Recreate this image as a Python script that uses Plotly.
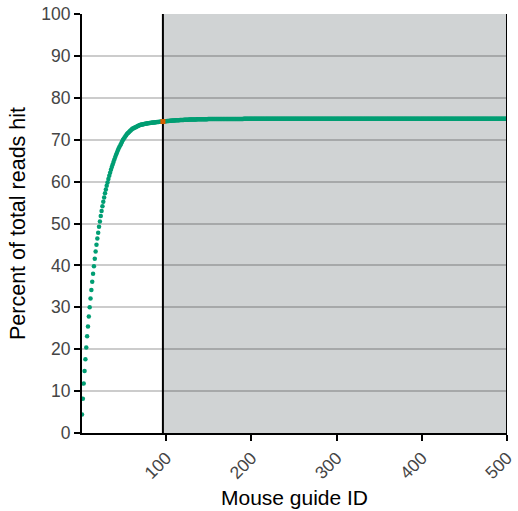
import plotly.graph_objects as go

# Guide IDs 1..500 (x categories)
guide_ids = list(range(1, 501))

# Percent of total reads hit (IDs 1-100)
pct_first100 = [
    4.4, 8.2, 11.8, 14.8, 17.6, 20.4, 23.1, 25.4, 27.8, 30.0,
    32.1, 34.1, 36.1, 38.0, 39.8, 41.6, 43.3, 44.9, 46.4, 47.8,
    49.2, 50.5, 51.8, 53.0, 54.1, 55.2, 56.2, 57.2, 58.1, 59.0,
    59.8, 60.6, 61.4, 62.1, 62.8, 63.5, 64.1, 64.7, 65.3, 65.9,
    66.4, 66.9, 67.4, 67.9, 68.3, 68.7, 69.1, 69.5, 69.9, 70.2,
    70.5, 70.8, 71.1, 71.4, 71.6, 71.8, 72.0, 72.2, 72.4, 72.6,
    72.7, 72.8, 72.9, 73.0, 73.1, 73.2, 73.3, 73.4, 73.5, 73.55,
    73.6, 73.65, 73.7, 73.74, 73.78, 73.82, 73.86, 73.9, 73.93, 73.96,
    73.99, 74.02, 74.05, 74.08, 74.1, 74.13, 74.15, 74.18, 74.2, 74.22,
    74.24, 74.26, 74.28, 74.3, 74.32, 74.34, 74.36, 74.38, 74.4, 74.42,
]

# IDs 101-200 (slow approach to the plateau)
pct_101_200 = [
    74.44, 74.46, 74.48, 74.5, 74.52, 74.54, 74.56, 74.57, 74.59, 74.6,
    74.62, 74.63, 74.65, 74.66, 74.67, 74.69, 74.7, 74.71, 74.72, 74.73,
    74.74, 74.75, 74.76, 74.77, 74.78, 74.79, 74.8, 74.8, 74.81, 74.82,
    74.83, 74.83, 74.84, 74.85, 74.85, 74.86, 74.86, 74.87, 74.87, 74.88,
    74.88, 74.89, 74.89, 74.9, 74.9, 74.9, 74.91, 74.91, 74.92, 74.92,
    74.92, 74.93, 74.93, 74.93, 74.94, 74.94, 74.94, 74.94, 74.95, 74.95,
    74.95, 74.95, 74.95, 74.95, 74.95, 74.95, 74.95, 74.95, 74.95, 74.95,
    74.96, 74.96, 74.96, 74.96, 74.96, 74.96, 74.96, 74.96, 74.96, 74.96,
    74.97, 74.97, 74.97, 74.97, 74.97, 74.97, 74.97, 74.97, 74.97, 74.97,
    74.98, 74.98, 74.98, 74.98, 74.98, 74.98, 74.98, 74.98, 74.98, 74.98,
]

# IDs 201-300
pct_201_300 = [
    74.99, 74.99, 74.99, 74.99, 74.99, 74.99, 74.99, 74.99, 74.99, 74.99,
    74.99, 74.99, 74.99, 74.99, 74.99, 74.99, 74.99, 74.99, 74.99, 74.99,
    74.99, 74.99, 74.99, 74.99, 74.99, 74.99, 74.99, 74.99, 74.99, 74.99,
    74.99, 74.99, 74.99, 74.99, 74.99, 74.99, 74.99, 74.99, 74.99, 74.99,
    74.99, 74.99, 74.99, 74.99, 74.99, 74.99, 74.99, 74.99, 74.99, 74.99,
    75.0, 75.0, 75.0, 75.0, 75.0, 75.0, 75.0, 75.0, 75.0, 75.0,
    75.0, 75.0, 75.0, 75.0, 75.0, 75.0, 75.0, 75.0, 75.0, 75.0,
    75.0, 75.0, 75.0, 75.0, 75.0, 75.0, 75.0, 75.0, 75.0, 75.0,
    75.0, 75.0, 75.0, 75.0, 75.0, 75.0, 75.0, 75.0, 75.0, 75.0,
    75.0, 75.0, 75.0, 75.0, 75.0, 75.0, 75.0, 75.0, 75.0, 75.0,
]

# IDs 301-400
pct_301_400 = [
    75.01, 75.01, 75.01, 75.01, 75.01, 75.01, 75.01, 75.01, 75.01, 75.01,
    75.01, 75.01, 75.01, 75.01, 75.01, 75.01, 75.01, 75.01, 75.01, 75.01,
    75.01, 75.01, 75.01, 75.01, 75.01, 75.01, 75.01, 75.01, 75.01, 75.01,
    75.01, 75.01, 75.01, 75.01, 75.01, 75.01, 75.01, 75.01, 75.01, 75.01,
    75.01, 75.01, 75.01, 75.01, 75.01, 75.01, 75.01, 75.01, 75.01, 75.01,
    75.01, 75.01, 75.01, 75.01, 75.01, 75.01, 75.01, 75.01, 75.01, 75.01,
    75.01, 75.01, 75.01, 75.01, 75.01, 75.01, 75.01, 75.01, 75.01, 75.01,
    75.01, 75.01, 75.01, 75.01, 75.01, 75.01, 75.01, 75.01, 75.01, 75.01,
    75.01, 75.01, 75.01, 75.01, 75.01, 75.01, 75.01, 75.01, 75.01, 75.01,
    75.01, 75.01, 75.01, 75.01, 75.01, 75.01, 75.01, 75.01, 75.01, 75.01,
]

# IDs 401-500
pct_401_500 = [
    75.02, 75.02, 75.02, 75.02, 75.02, 75.02, 75.02, 75.02, 75.02, 75.02,
    75.02, 75.02, 75.02, 75.02, 75.02, 75.02, 75.02, 75.02, 75.02, 75.02,
    75.02, 75.02, 75.02, 75.02, 75.02, 75.02, 75.02, 75.02, 75.02, 75.02,
    75.02, 75.02, 75.02, 75.02, 75.02, 75.02, 75.02, 75.02, 75.02, 75.02,
    75.02, 75.02, 75.02, 75.02, 75.02, 75.02, 75.02, 75.02, 75.02, 75.02,
    75.02, 75.02, 75.02, 75.02, 75.02, 75.02, 75.02, 75.02, 75.02, 75.02,
    75.02, 75.02, 75.02, 75.02, 75.02, 75.02, 75.02, 75.02, 75.02, 75.02,
    75.02, 75.02, 75.02, 75.02, 75.02, 75.02, 75.02, 75.02, 75.02, 75.02,
    75.02, 75.02, 75.02, 75.02, 75.02, 75.02, 75.02, 75.02, 75.02, 75.02,
    75.02, 75.02, 75.02, 75.02, 75.02, 75.02, 75.02, 75.02, 75.02, 75.02,
]

percent_hit = pct_first100 + pct_101_200 + pct_201_300 + pct_301_400 + pct_401_500

cutoff_id = 96
x_tick_vals = [100, 200, 300, 400, 500]
y_tick_vals = [0, 10, 20, 30, 40, 50, 60, 70, 80, 90, 100]

GREEN = "#009e73"
ORANGE = "#d55e00"
SHADE = "#d0d3d4"
FONT = "Liberation Sans, Arial, Helvetica, sans-serif"

fig = go.Figure()

fig.add_trace(go.Scatter(
    x=guide_ids, y=percent_hit, mode="markers",
    marker=dict(color=GREEN, size=4.5, line=dict(width=0)),
    showlegend=False, hoverinfo="skip",
))

fig.add_trace(go.Scatter(
    x=[guide_ids[cutoff_id - 1]], y=[percent_hit[cutoff_id - 1]], mode="markers",
    marker=dict(color=ORANGE, size=5, symbol="square", line=dict(width=0)),
    showlegend=False, hoverinfo="skip",
))

# shaded region beyond cutoff
fig.add_shape(type="rect", xref="x", yref="y", x0=cutoff_id, x1=500, y0=0, y1=100,
              fillcolor=SHADE, line=dict(width=0), layer="below")
# cutoff line
fig.add_shape(type="line", xref="x", yref="y", x0=cutoff_id, x1=cutoff_id, y0=0, y1=100,
              line=dict(color="black", width=2), layer="between")
# right border
fig.add_shape(type="line", xref="x", yref="y", x0=500, x1=500, y0=0, y1=100,
              line=dict(color="black", width=2), layer="above")

fig.update_layout(
    width=518, height=511,
    margin=dict(l=82, r=11, t=14, b=78),
    paper_bgcolor="white", plot_bgcolor="white",
    font=dict(family=FONT, color="black"),
    xaxis=dict(
        range=[1, 500], tickvals=x_tick_vals, ticktext=[str(v) for v in x_tick_vals],
        tickangle=-45, ticks="outside", ticklen=6, tickwidth=2, tickcolor="black",
        showline=True, linecolor="black", linewidth=2,
        showgrid=False, zeroline=False, automargin=False,
        tickfont=dict(size=17.5, color="#454545", family=FONT),
        title=dict(text="Mouse guide ID", font=dict(size=21, color="black", family=FONT), standoff=8),
    ),
    yaxis=dict(
        range=[0, 100], tickvals=y_tick_vals, ticktext=[str(v) for v in y_tick_vals],
        ticks="outside", ticklen=6, tickwidth=2, tickcolor="black",
        showline=True, linecolor="black", linewidth=2, automargin=False,
        showgrid=True, gridcolor="rgba(0,0,0,0.2)", gridwidth=2, zeroline=False,
        tickfont=dict(size=17.5, color="#454545", family=FONT),
        title=dict(text="Percent of total reads hit", font=dict(size=21.5, color="black", family=FONT), standoff=10),
    ),
)

fig.write_html(
    "out.html",
    config={"displayModeBar": False, "staticPlot": True},
    post_script="document.body.style.margin='0';document.body.style.overflow='hidden';",
)
